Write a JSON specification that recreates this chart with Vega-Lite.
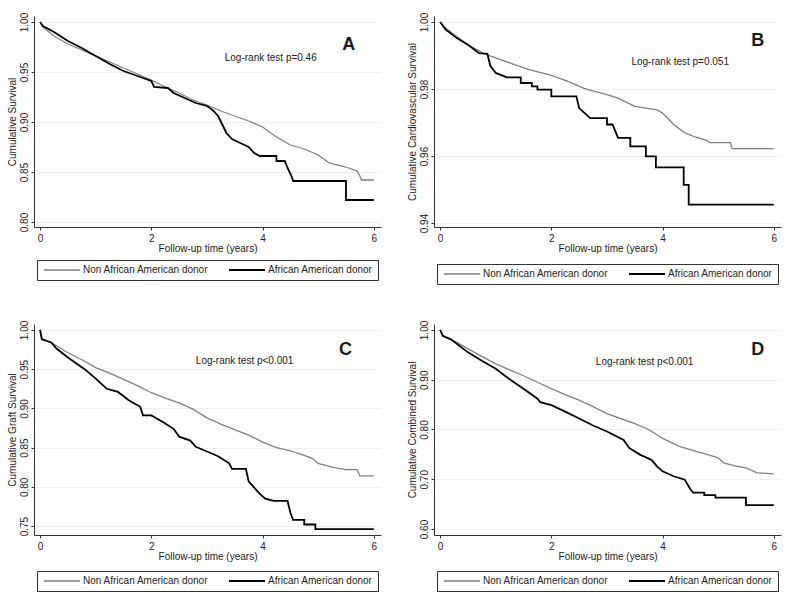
{
  "$schema": "https://vega.github.io/schema/vega-lite/v6.json",
  "background": "white",
  "padding": {"left": 7, "top": 12, "right": 5, "bottom": 5},
  "datasets": {
    "curves": [
      {"p":"A","g":"N","t":0,"s":1},{"p":"A","g":"N","t":0.05,"s":0.995},{"p":"A","g":"N","t":0.25,"s":0.986},{"p":"A","g":"N","t":0.5,"s":0.978},{"p":"A","g":"N","t":0.75,"s":0.972},{"p":"A","g":"N","t":1.0,"s":0.966},{"p":"A","g":"N","t":1.25,"s":0.96},{"p":"A","g":"N","t":1.5,"s":0.954},{"p":"A","g":"N","t":1.75,"s":0.948},{"p":"A","g":"N","t":2.0,"s":0.942},{"p":"A","g":"N","t":2.25,"s":0.935},{"p":"A","g":"N","t":2.5,"s":0.929},{"p":"A","g":"N","t":2.75,"s":0.922},{"p":"A","g":"N","t":3.0,"s":0.917},{"p":"A","g":"N","t":3.25,"s":0.911},{"p":"A","g":"N","t":3.5,"s":0.906},{"p":"A","g":"N","t":3.75,"s":0.901},{"p":"A","g":"N","t":4.0,"s":0.895},{"p":"A","g":"N","t":4.25,"s":0.885},{"p":"A","g":"N","t":4.5,"s":0.877},{"p":"A","g":"N","t":4.75,"s":0.873},{"p":"A","g":"N","t":5.0,"s":0.867},{"p":"A","g":"N","t":5.2,"s":0.859},{"p":"A","g":"N","t":5.5,"s":0.855},{"p":"A","g":"N","t":5.7,"s":0.851},{"p":"A","g":"N","t":5.75,"s":0.846},{"p":"A","g":"N","t":5.78,"s":0.842},{"p":"A","g":"N","t":6.0,"s":0.842},
      {"p":"A","g":"AA","t":0,"s":1},{"p":"A","g":"AA","t":0.05,"s":0.996},{"p":"A","g":"AA","t":0.25,"s":0.99},{"p":"A","g":"AA","t":0.5,"s":0.981},{"p":"A","g":"AA","t":0.75,"s":0.974},{"p":"A","g":"AA","t":0.9,"s":0.969},{"p":"A","g":"AA","t":1.0,"s":0.966},{"p":"A","g":"AA","t":1.25,"s":0.958},{"p":"A","g":"AA","t":1.5,"s":0.951},{"p":"A","g":"AA","t":1.75,"s":0.946},{"p":"A","g":"AA","t":2.0,"s":0.941},{"p":"A","g":"AA","t":2.05,"s":0.935},{"p":"A","g":"AA","t":2.3,"s":0.934},{"p":"A","g":"AA","t":2.4,"s":0.929},{"p":"A","g":"AA","t":2.6,"s":0.924},{"p":"A","g":"AA","t":2.8,"s":0.919},{"p":"A","g":"AA","t":3.0,"s":0.916},{"p":"A","g":"AA","t":3.1,"s":0.912},{"p":"A","g":"AA","t":3.2,"s":0.906},{"p":"A","g":"AA","t":3.28,"s":0.897},{"p":"A","g":"AA","t":3.35,"s":0.889},{"p":"A","g":"AA","t":3.45,"s":0.883},{"p":"A","g":"AA","t":3.6,"s":0.879},{"p":"A","g":"AA","t":3.75,"s":0.875},{"p":"A","g":"AA","t":3.85,"s":0.869},{"p":"A","g":"AA","t":3.95,"s":0.866},{"p":"A","g":"AA","t":4.25,"s":0.866},{"p":"A","g":"AA","t":4.25,"s":0.861},{"p":"A","g":"AA","t":4.4,"s":0.861},{"p":"A","g":"AA","t":4.45,"s":0.854},{"p":"A","g":"AA","t":4.52,"s":0.846},{"p":"A","g":"AA","t":4.55,"s":0.841},{"p":"A","g":"AA","t":5.5,"s":0.841},{"p":"A","g":"AA","t":5.5,"s":0.822},{"p":"A","g":"AA","t":6.0,"s":0.822},
      {"p":"B","g":"N","t":0,"s":1},{"p":"B","g":"N","t":0.1,"s":0.9982},{"p":"B","g":"N","t":0.3,"s":0.9957},{"p":"B","g":"N","t":0.5,"s":0.9932},{"p":"B","g":"N","t":0.8,"s":0.9905},{"p":"B","g":"N","t":1.0,"s":0.9893},{"p":"B","g":"N","t":1.3,"s":0.9875},{"p":"B","g":"N","t":1.6,"s":0.9858},{"p":"B","g":"N","t":2.0,"s":0.9841},{"p":"B","g":"N","t":2.3,"s":0.9823},{"p":"B","g":"N","t":2.6,"s":0.9801},{"p":"B","g":"N","t":3.0,"s":0.9783},{"p":"B","g":"N","t":3.2,"s":0.9773},{"p":"B","g":"N","t":3.5,"s":0.9748},{"p":"B","g":"N","t":3.9,"s":0.9738},{"p":"B","g":"N","t":4.0,"s":0.9728},{"p":"B","g":"N","t":4.2,"s":0.9694},{"p":"B","g":"N","t":4.4,"s":0.9669},{"p":"B","g":"N","t":4.6,"s":0.9656},{"p":"B","g":"N","t":4.8,"s":0.9646},{"p":"B","g":"N","t":4.85,"s":0.964},{"p":"B","g":"N","t":5.22,"s":0.964},{"p":"B","g":"N","t":5.25,"s":0.9622},{"p":"B","g":"N","t":6.0,"s":0.9622},
      {"p":"B","g":"AA","t":0,"s":1},{"p":"B","g":"AA","t":0.1,"s":0.9977},{"p":"B","g":"AA","t":0.3,"s":0.9952},{"p":"B","g":"AA","t":0.5,"s":0.9932},{"p":"B","g":"AA","t":0.7,"s":0.9907},{"p":"B","g":"AA","t":0.85,"s":0.9905},{"p":"B","g":"AA","t":0.9,"s":0.987},{"p":"B","g":"AA","t":1.0,"s":0.9848},{"p":"B","g":"AA","t":1.2,"s":0.9835},{"p":"B","g":"AA","t":1.45,"s":0.9835},{"p":"B","g":"AA","t":1.45,"s":0.9818},{"p":"B","g":"AA","t":1.65,"s":0.9818},{"p":"B","g":"AA","t":1.65,"s":0.9808},{"p":"B","g":"AA","t":1.75,"s":0.9808},{"p":"B","g":"AA","t":1.75,"s":0.9798},{"p":"B","g":"AA","t":2.0,"s":0.9798},{"p":"B","g":"AA","t":2.0,"s":0.9778},{"p":"B","g":"AA","t":2.45,"s":0.9778},{"p":"B","g":"AA","t":2.5,"s":0.9743},{"p":"B","g":"AA","t":2.6,"s":0.9728},{"p":"B","g":"AA","t":2.7,"s":0.9713},{"p":"B","g":"AA","t":3.0,"s":0.9713},{"p":"B","g":"AA","t":3.0,"s":0.9694},{"p":"B","g":"AA","t":3.1,"s":0.9694},{"p":"B","g":"AA","t":3.15,"s":0.9674},{"p":"B","g":"AA","t":3.2,"s":0.9654},{"p":"B","g":"AA","t":3.42,"s":0.9654},{"p":"B","g":"AA","t":3.42,"s":0.9629},{"p":"B","g":"AA","t":3.7,"s":0.9629},{"p":"B","g":"AA","t":3.7,"s":0.9599},{"p":"B","g":"AA","t":3.88,"s":0.9599},{"p":"B","g":"AA","t":3.88,"s":0.9566},{"p":"B","g":"AA","t":4.38,"s":0.9566},{"p":"B","g":"AA","t":4.38,"s":0.9514},{"p":"B","g":"AA","t":4.47,"s":0.9514},{"p":"B","g":"AA","t":4.47,"s":0.9455},{"p":"B","g":"AA","t":6.0,"s":0.9455},
      {"p":"C","g":"N","t":0,"s":1},{"p":"C","g":"N","t":0.03,"s":0.989},{"p":"C","g":"N","t":0.2,"s":0.984},{"p":"C","g":"N","t":0.5,"s":0.971},{"p":"C","g":"N","t":0.75,"s":0.962},{"p":"C","g":"N","t":1.0,"s":0.952},{"p":"C","g":"N","t":1.25,"s":0.945},{"p":"C","g":"N","t":1.5,"s":0.937},{"p":"C","g":"N","t":1.75,"s":0.929},{"p":"C","g":"N","t":2.0,"s":0.92},{"p":"C","g":"N","t":2.25,"s":0.913},{"p":"C","g":"N","t":2.5,"s":0.907},{"p":"C","g":"N","t":2.75,"s":0.899},{"p":"C","g":"N","t":3.0,"s":0.888},{"p":"C","g":"N","t":3.25,"s":0.88},{"p":"C","g":"N","t":3.5,"s":0.873},{"p":"C","g":"N","t":3.75,"s":0.866},{"p":"C","g":"N","t":4.0,"s":0.857},{"p":"C","g":"N","t":4.25,"s":0.85},{"p":"C","g":"N","t":4.5,"s":0.846},{"p":"C","g":"N","t":4.75,"s":0.84},{"p":"C","g":"N","t":4.9,"s":0.836},{"p":"C","g":"N","t":5.0,"s":0.83},{"p":"C","g":"N","t":5.25,"s":0.825},{"p":"C","g":"N","t":5.5,"s":0.822},{"p":"C","g":"N","t":5.7,"s":0.822},{"p":"C","g":"N","t":5.75,"s":0.814},{"p":"C","g":"N","t":6.0,"s":0.814},
      {"p":"C","g":"AA","t":0,"s":1},{"p":"C","g":"AA","t":0.03,"s":0.988},{"p":"C","g":"AA","t":0.2,"s":0.984},{"p":"C","g":"AA","t":0.3,"s":0.976},{"p":"C","g":"AA","t":0.5,"s":0.965},{"p":"C","g":"AA","t":0.8,"s":0.95},{"p":"C","g":"AA","t":1.0,"s":0.938},{"p":"C","g":"AA","t":1.2,"s":0.925},{"p":"C","g":"AA","t":1.4,"s":0.921},{"p":"C","g":"AA","t":1.6,"s":0.91},{"p":"C","g":"AA","t":1.8,"s":0.902},{"p":"C","g":"AA","t":1.85,"s":0.891},{"p":"C","g":"AA","t":2.0,"s":0.891},{"p":"C","g":"AA","t":2.2,"s":0.883},{"p":"C","g":"AA","t":2.4,"s":0.874},{"p":"C","g":"AA","t":2.5,"s":0.864},{"p":"C","g":"AA","t":2.7,"s":0.859},{"p":"C","g":"AA","t":2.8,"s":0.851},{"p":"C","g":"AA","t":3.0,"s":0.845},{"p":"C","g":"AA","t":3.2,"s":0.839},{"p":"C","g":"AA","t":3.4,"s":0.83},{"p":"C","g":"AA","t":3.45,"s":0.823},{"p":"C","g":"AA","t":3.7,"s":0.823},{"p":"C","g":"AA","t":3.75,"s":0.807},{"p":"C","g":"AA","t":3.85,"s":0.799},{"p":"C","g":"AA","t":3.95,"s":0.791},{"p":"C","g":"AA","t":4.05,"s":0.785},{"p":"C","g":"AA","t":4.2,"s":0.782},{"p":"C","g":"AA","t":4.45,"s":0.782},{"p":"C","g":"AA","t":4.5,"s":0.767},{"p":"C","g":"AA","t":4.55,"s":0.758},{"p":"C","g":"AA","t":4.75,"s":0.758},{"p":"C","g":"AA","t":4.75,"s":0.752},{"p":"C","g":"AA","t":4.95,"s":0.752},{"p":"C","g":"AA","t":4.95,"s":0.746},{"p":"C","g":"AA","t":6.0,"s":0.746},
      {"p":"D","g":"N","t":0,"s":1},{"p":"D","g":"N","t":0.05,"s":0.988},{"p":"D","g":"N","t":0.3,"s":0.975},{"p":"D","g":"N","t":0.5,"s":0.962},{"p":"D","g":"N","t":0.75,"s":0.947},{"p":"D","g":"N","t":1.0,"s":0.932},{"p":"D","g":"N","t":1.25,"s":0.92},{"p":"D","g":"N","t":1.5,"s":0.908},{"p":"D","g":"N","t":1.75,"s":0.895},{"p":"D","g":"N","t":2.0,"s":0.882},{"p":"D","g":"N","t":2.25,"s":0.87},{"p":"D","g":"N","t":2.5,"s":0.859},{"p":"D","g":"N","t":2.75,"s":0.846},{"p":"D","g":"N","t":3.0,"s":0.832},{"p":"D","g":"N","t":3.25,"s":0.822},{"p":"D","g":"N","t":3.5,"s":0.812},{"p":"D","g":"N","t":3.75,"s":0.8},{"p":"D","g":"N","t":4.0,"s":0.782},{"p":"D","g":"N","t":4.3,"s":0.766},{"p":"D","g":"N","t":4.6,"s":0.756},{"p":"D","g":"N","t":4.8,"s":0.75},{"p":"D","g":"N","t":5.0,"s":0.743},{"p":"D","g":"N","t":5.1,"s":0.733},{"p":"D","g":"N","t":5.3,"s":0.727},{"p":"D","g":"N","t":5.5,"s":0.723},{"p":"D","g":"N","t":5.7,"s":0.713},{"p":"D","g":"N","t":6.0,"s":0.711},
      {"p":"D","g":"AA","t":0,"s":1},{"p":"D","g":"AA","t":0.05,"s":0.988},{"p":"D","g":"AA","t":0.2,"s":0.981},{"p":"D","g":"AA","t":0.5,"s":0.955},{"p":"D","g":"AA","t":0.75,"s":0.938},{"p":"D","g":"AA","t":1.0,"s":0.922},{"p":"D","g":"AA","t":1.25,"s":0.901},{"p":"D","g":"AA","t":1.5,"s":0.882},{"p":"D","g":"AA","t":1.75,"s":0.862},{"p":"D","g":"AA","t":1.8,"s":0.855},{"p":"D","g":"AA","t":2.0,"s":0.849},{"p":"D","g":"AA","t":2.25,"s":0.836},{"p":"D","g":"AA","t":2.5,"s":0.822},{"p":"D","g":"AA","t":2.75,"s":0.808},{"p":"D","g":"AA","t":3.0,"s":0.796},{"p":"D","g":"AA","t":3.3,"s":0.779},{"p":"D","g":"AA","t":3.4,"s":0.763},{"p":"D","g":"AA","t":3.6,"s":0.749},{"p":"D","g":"AA","t":3.8,"s":0.739},{"p":"D","g":"AA","t":3.9,"s":0.726},{"p":"D","g":"AA","t":4.0,"s":0.716},{"p":"D","g":"AA","t":4.2,"s":0.706},{"p":"D","g":"AA","t":4.4,"s":0.699},{"p":"D","g":"AA","t":4.5,"s":0.68},{"p":"D","g":"AA","t":4.55,"s":0.673},{"p":"D","g":"AA","t":4.75,"s":0.673},{"p":"D","g":"AA","t":4.75,"s":0.668},{"p":"D","g":"AA","t":4.95,"s":0.668},{"p":"D","g":"AA","t":4.95,"s":0.663},{"p":"D","g":"AA","t":5.5,"s":0.663},{"p":"D","g":"AA","t":5.5,"s":0.648},{"p":"D","g":"AA","t":6.0,"s":0.648}
    ],
    "notes": [
      {"p":"A","k":"t","x":3.32,"y":0.964,"label":"Log-rank test p=0.46"},
      {"p":"A","k":"L","x":5.55,"y":0.977,"label":"A"},
      {"p":"B","k":"t","x":3.44,"y":0.988,"label":"Log-rank test p=0.051"},
      {"p":"B","k":"L","x":5.71,"y":0.9943,"label":"B"},
      {"p":"C","k":"t","x":2.8,"y":0.96,"label":"Log-rank test p<0.001"},
      {"p":"C","k":"L","x":5.49,"y":0.975,"label":"C"},
      {"p":"D","k":"t","x":2.8,"y":0.936,"label":"Log-rank test p<0.001"},
      {"p":"D","k":"L","x":5.71,"y":0.96,"label":"D"}
    ]
  },
  "columns": 2,
  "spacing": {"row": 97, "column": 53},
  "bounds": "flush",
  "resolve": {"scale": {"color": "independent", "strokeWidth": "independent", "x": "independent", "y": "independent"}, "legend": {"color": "independent"}},
  "concat": [
    {
      "width": 347, "height": 211,
      "layer": [
        {"data": {"name": "curves"}, "transform": [{"filter": "datum.p == 'A'"}],
         "mark": {"type": "line", "interpolate": "linear"},
         "encoding": {
           "x": {"field": "t", "type": "quantitative", "scale": {"domain": [-0.11, 6.13], "nice": false, "zero": false}, "axis": {"values": [0, 2, 4, 6], "format": "d", "title": "Follow-up time (years)"}},
           "y": {"field": "s", "type": "quantitative", "scale": {"domain": [0.795, 1.006], "nice": false, "zero": false}, "axis": {"values": [0.8, 0.85, 0.9, 0.95, 1.0], "format": ".2f", "title": "Cumulative Survival"}},
           "color": {"field": "g", "type": "nominal", "scale": {"domain": ["N", "AA"], "range": ["#808080", "#000000"]}, "legend": {"orient": "none", "legendX": 3, "legendY": 244, "labelExpr": "datum.label == 'N' ? 'Non African American donor' : 'African American donor'"}},
           "strokeWidth": {"field": "g", "type": "nominal", "scale": {"domain": ["N", "AA"], "range": [1.3, 1.8]}, "legend": null}
         }},
        {"data": {"name": "notes"}, "transform": [{"filter": "datum.p == 'A' && datum.k == 't'"}],
         "mark": {"type": "text", "align": "left", "baseline": "middle", "fontSize": 10},
         "encoding": {"x": {"field": "x", "type": "quantitative"}, "y": {"field": "y", "type": "quantitative"}, "text": {"field": "label"}}},
        {"data": {"name": "notes"}, "transform": [{"filter": "datum.p == 'A' && datum.k == 'L'"}],
         "mark": {"type": "text", "align": "center", "baseline": "middle", "fontSize": 18, "fontWeight": "bold"},
         "encoding": {"x": {"field": "x", "type": "quantitative"}, "y": {"field": "y", "type": "quantitative"}, "text": {"field": "label"}}}
      ]
    },
    {
      "width": 347, "height": 211,
      "layer": [
        {"data": {"name": "curves"}, "transform": [{"filter": "datum.p == 'B'"}],
         "mark": {"type": "line", "interpolate": "linear"},
         "encoding": {
           "x": {"field": "t", "type": "quantitative", "scale": {"domain": [-0.11, 6.13], "nice": false, "zero": false}, "axis": {"values": [0, 2, 4, 6], "format": "d", "title": "Follow-up time (years)"}},
           "y": {"field": "s", "type": "quantitative", "scale": {"domain": [0.9388, 1.0018], "nice": false, "zero": false}, "axis": {"values": [0.94, 0.96, 0.98, 1.0], "format": ".2f", "title": "Cumulative Cardiovascular Survival"}},
           "color": {"field": "g", "type": "nominal", "scale": {"domain": ["N", "AA"], "range": ["#808080", "#000000"]}, "legend": {"orient": "none", "legendX": 3, "legendY": 248, "labelExpr": "datum.label == 'N' ? 'Non African American donor' : 'African American donor'"}},
           "strokeWidth": {"field": "g", "type": "nominal", "scale": {"domain": ["N", "AA"], "range": [1.3, 1.8]}, "legend": null}
         }},
        {"data": {"name": "notes"}, "transform": [{"filter": "datum.p == 'B' && datum.k == 't'"}],
         "mark": {"type": "text", "align": "left", "baseline": "middle", "fontSize": 10},
         "encoding": {"x": {"field": "x", "type": "quantitative"}, "y": {"field": "y", "type": "quantitative"}, "text": {"field": "label"}}},
        {"data": {"name": "notes"}, "transform": [{"filter": "datum.p == 'B' && datum.k == 'L'"}],
         "mark": {"type": "text", "align": "center", "baseline": "middle", "fontSize": 18, "fontWeight": "bold"},
         "encoding": {"x": {"field": "x", "type": "quantitative"}, "y": {"field": "y", "type": "quantitative"}, "text": {"field": "label"}}}
      ]
    },
    {
      "width": 347, "height": 211,
      "layer": [
        {"data": {"name": "curves"}, "transform": [{"filter": "datum.p == 'C'"}],
         "mark": {"type": "line", "interpolate": "linear"},
         "encoding": {
           "x": {"field": "t", "type": "quantitative", "scale": {"domain": [-0.11, 6.13], "nice": false, "zero": false}, "axis": {"values": [0, 2, 4, 6], "format": "d", "title": "Follow-up time (years)"}},
           "y": {"field": "s", "type": "quantitative", "scale": {"domain": [0.7386, 1.0076], "nice": false, "zero": false}, "axis": {"values": [0.75, 0.8, 0.85, 0.9, 0.95, 1.0], "format": ".2f", "title": "Cumulative Graft Survival"}},
           "color": {"field": "g", "type": "nominal", "scale": {"domain": ["N", "AA"], "range": ["#808080", "#000000"]}, "legend": {"orient": "none", "legendX": 3, "legendY": 247, "labelExpr": "datum.label == 'N' ? 'Non African American donor' : 'African American donor'"}},
           "strokeWidth": {"field": "g", "type": "nominal", "scale": {"domain": ["N", "AA"], "range": [1.3, 1.8]}, "legend": null}
         }},
        {"data": {"name": "notes"}, "transform": [{"filter": "datum.p == 'C' && datum.k == 't'"}],
         "mark": {"type": "text", "align": "left", "baseline": "middle", "fontSize": 10},
         "encoding": {"x": {"field": "x", "type": "quantitative"}, "y": {"field": "y", "type": "quantitative"}, "text": {"field": "label"}}},
        {"data": {"name": "notes"}, "transform": [{"filter": "datum.p == 'C' && datum.k == 'L'"}],
         "mark": {"type": "text", "align": "center", "baseline": "middle", "fontSize": 18, "fontWeight": "bold"},
         "encoding": {"x": {"field": "x", "type": "quantitative"}, "y": {"field": "y", "type": "quantitative"}, "text": {"field": "label"}}}
      ]
    },
    {
      "width": 347, "height": 211,
      "layer": [
        {"data": {"name": "curves"}, "transform": [{"filter": "datum.p == 'D'"}],
         "mark": {"type": "line", "interpolate": "linear"},
         "encoding": {
           "x": {"field": "t", "type": "quantitative", "scale": {"domain": [-0.11, 6.13], "nice": false, "zero": false}, "axis": {"values": [0, 2, 4, 6], "format": "d", "title": "Follow-up time (years)"}},
           "y": {"field": "s", "type": "quantitative", "scale": {"domain": [0.588, 1.012], "nice": false, "zero": false}, "axis": {"values": [0.6, 0.7, 0.8, 0.9, 1.0], "format": ".2f", "title": "Cumulative Combined Survival"}},
           "color": {"field": "g", "type": "nominal", "scale": {"domain": ["N", "AA"], "range": ["#808080", "#000000"]}, "legend": {"orient": "none", "legendX": 3, "legendY": 247, "labelExpr": "datum.label == 'N' ? 'Non African American donor' : 'African American donor'"}},
           "strokeWidth": {"field": "g", "type": "nominal", "scale": {"domain": ["N", "AA"], "range": [1.3, 1.8]}, "legend": null}
         }},
        {"data": {"name": "notes"}, "transform": [{"filter": "datum.p == 'D' && datum.k == 't'"}],
         "mark": {"type": "text", "align": "left", "baseline": "middle", "fontSize": 10},
         "encoding": {"x": {"field": "x", "type": "quantitative"}, "y": {"field": "y", "type": "quantitative"}, "text": {"field": "label"}}},
        {"data": {"name": "notes"}, "transform": [{"filter": "datum.p == 'D' && datum.k == 'L'"}],
         "mark": {"type": "text", "align": "center", "baseline": "middle", "fontSize": 18, "fontWeight": "bold"},
         "encoding": {"x": {"field": "x", "type": "quantitative"}, "y": {"field": "y", "type": "quantitative"}, "text": {"field": "label"}}}
      ]
    }
  ],
  "config": {
    "font": "Liberation Sans",
    "view": {"stroke": null},
    "text": {"color": "#1a1a1a", "font": "Liberation Sans"},
    "axis": {"domainColor": "#333333", "tickColor": "#333333", "tickSize": 3, "labelFontSize": 10, "titleFontSize": 10, "titleFontWeight": "normal", "labelColor": "#222222", "titleColor": "#222222", "labelFont": "Liberation Sans", "titleFont": "Liberation Sans", "gridColor": "#eef1f1", "gridWidth": 1},
    "axisX": {"grid": false, "labelPadding": 3, "titlePadding": 0, "labelFlush": false},
    "axisY": {"grid": true, "labelAngle": -90, "labelPadding": 2, "titlePadding": 2, "labelFlush": false},
    "legend": {"direction": "horizontal", "title": null, "strokeColor": "#333333", "padding": 5, "symbolType": "M-1,0H11", "symbolSize": 36, "symbolStrokeWidth": 1.5, "labelOffset": 31, "columnPadding": 16, "labelFontSize": 10, "labelColor": "#222222", "labelFont": "Liberation Sans", "labelLimit": 300}
  }
}
